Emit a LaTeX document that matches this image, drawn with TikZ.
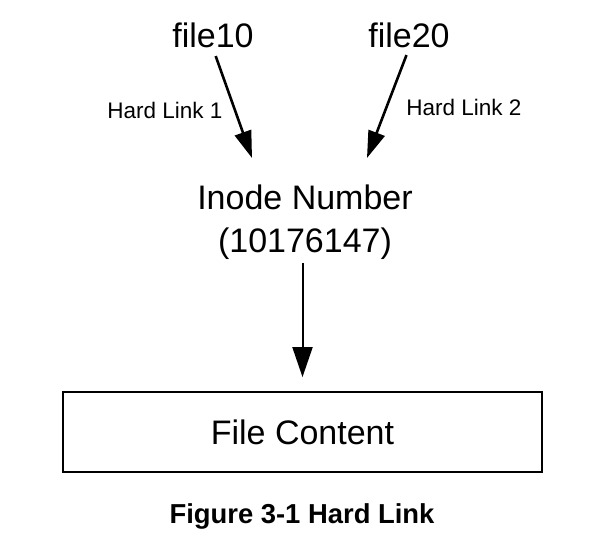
\documentclass[tikz,border=0pt]{standalone}
\usepackage{fontspec}
\setmainfont{Liberation Sans}
\usetikzlibrary{arrows.meta}
\begin{document}
\begin{tikzpicture}[x=1pt, y=1pt,
        big/.style={inner sep=0pt, anchor=base, font=\fontsize{34}{40}\selectfont},
        small/.style={inner sep=0pt, anchor=base, font=\fontsize{22.5}{26}\selectfont},
        link/.style={line width=2.6pt, -{Triangle[length=27pt, width=17pt]}},
        down/.style={line width=2pt, -{Triangle[length=30pt, width=20pt]}}]
        \useasboundingbox (0,0) rectangle (598,542);

        \node[big] (f10) at (213,494) {file10};
        \node[big] (f20) at (409,494) {file20};
        \node[small] (hl1) at (165,423) {Hard Link 1};
        \node[small] (hl2) at (464,426) {Hard Link 2};

        \coordinate (t1) at (252,384);
        \coordinate (t2) at (367,384);
        \draw[link, shorten <=8pt] (f10.south) -- (t1);
        \draw[link, shorten <=7pt] (f20.south) -- (t2);

        \node[big] (inode) at (305,332) {Inode Number};
        \node[big] (inum) at (305,289) {(10176147)};

        \node[draw, line width=1.8pt, minimum width=479pt, minimum height=80pt,
              inner sep=0pt, font=\fontsize{34}{40}\selectfont] (content) at (302.5,110) {File Content};

        \draw[down, shorten <=3pt, shorten >=14pt] (inum.south -| content.north) -- (content.north);

        \node[inner sep=0pt, anchor=base, font=\bfseries\fontsize{27.4}{32}\selectfont] (cap) at (302,19) {Figure 3-1 Hard Link};
    \end{tikzpicture}
\end{document}
